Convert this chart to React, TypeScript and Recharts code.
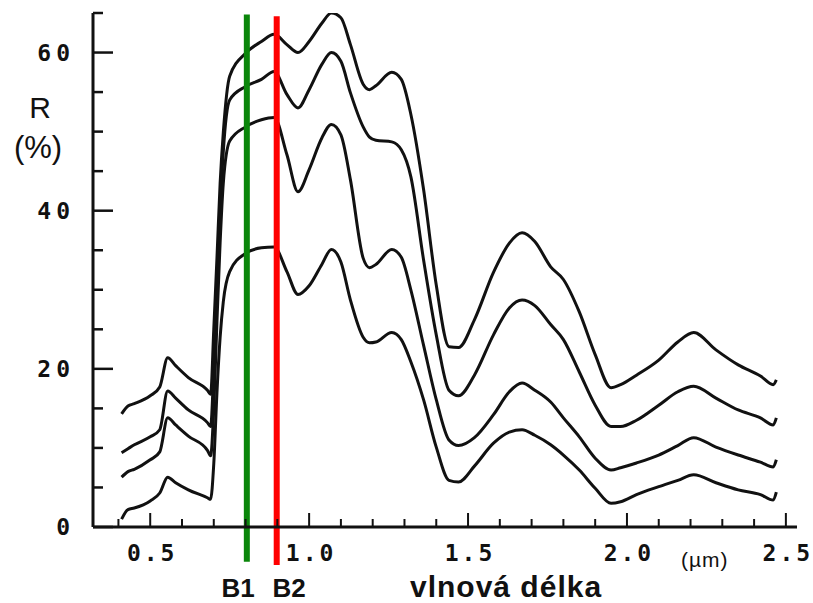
import { Line, LineChart, ReferenceLine, XAxis, YAxis } from "recharts";

// wavelength (µm) sampled along the four reflectance curves
const wavelength = [
  0.41, 0.43, 0.45, 0.5, 0.53, 0.555, 0.58, 0.62, 0.68, 0.69, 0.7, 0.71, 0.72, 0.73, 0.75, 0.8, 0.85,
  0.89, 0.93, 0.965, 1.0, 1.04, 1.07, 1.1, 1.13, 1.17, 1.19, 1.21, 1.26, 1.29, 1.32, 1.36, 1.4, 1.44,
  1.47, 1.52, 1.58, 1.63, 1.67, 1.71, 1.76, 1.8, 1.85, 1.9, 1.95, 1.98, 2.03, 2.1, 2.16, 2.21, 2.28,
  2.35, 2.42, 2.46, 2.47,
];

const curveA = [
  14.3, 15.3, 15.6, 16.6, 17.7, 21.4, 20.4, 18.9, 17.3, 16.8, 25.0, 34.0, 43.5, 49.9, 57.0, 59.9, 61.4,
  62.3, 61.0, 60.0, 61.4, 63.7, 65.0, 64.4, 61.0, 56.0, 55.3, 55.8, 57.5, 56.6, 52.2, 42.7, 30.6, 22.8,
  22.7, 26.2, 32.2, 35.9, 37.2, 36.1, 32.9, 31.3, 27.2, 21.8, 17.6, 18.0, 19.2, 21.1, 23.4, 24.6, 22.4,
  20.5, 19.1, 18.0, 18.6,
];

const curveB = [
  9.4, 9.9, 10.4, 11.4, 12.3, 17.2, 16.3, 14.8, 13.2, 12.7, 20.0, 30.0, 40.0, 47.5, 54.0, 55.7, 56.6,
  57.6, 54.7, 53.0, 55.3, 58.5, 60.0, 58.9, 54.9, 50.6, 49.3, 48.9, 48.7, 47.7, 44.3, 33.8, 24.3, 17.3,
  16.6, 19.2, 24.3, 27.7, 28.7, 28.0, 25.6, 23.7, 19.6, 15.4, 12.7, 12.7, 13.5, 15.4, 17.1, 17.8, 16.3,
  14.8, 13.8, 12.9, 13.8,
];

const curveC = [
  6.3, 7.0, 7.3, 8.5, 9.5, 13.8, 12.9, 11.5, 9.7, 9.0, 15.0, 26.0, 36.0, 43.5, 48.8, 50.6, 51.5,
  51.8, 47.1, 42.4, 45.2, 49.2, 50.9, 49.6, 43.9, 34.0, 32.8, 33.2, 35.1, 34.1, 30.0, 23.0, 16.1, 11.0,
  10.3, 11.3, 14.2, 17.1, 18.2, 17.3, 15.8, 13.8, 11.4, 8.7, 7.2, 7.5, 8.1, 9.1, 10.3, 11.3, 10.1,
  9.1, 8.2, 7.6, 8.5,
];

const curveD = [
  1.0, 2.2, 2.4, 3.3, 4.3, 6.3, 5.6, 4.7, 3.7, 3.5, 8.0, 17.0, 24.0, 28.5, 32.3, 34.6, 35.3,
  35.4, 32.3, 29.4, 30.5, 33.2, 35.1, 33.5, 28.7, 24.0, 23.3, 23.4, 24.6, 23.7, 20.9, 16.1, 10.1, 5.9,
  5.7, 7.7, 10.6, 12.0, 12.3, 11.6, 10.4, 9.1, 7.2, 4.9, 3.0, 3.2, 4.1, 5.1, 5.9, 6.6, 5.6,
  4.7, 4.1, 3.4, 4.4,
];

const xTicks = [
  0.4, 0.5, 0.6, 0.7, 0.8, 0.9, 1.0, 1.1, 1.2, 1.3, 1.4, 1.5, 1.6, 1.7, 1.8, 1.9, 2.0, 2.1, 2.2, 2.3,
  2.4, 2.5,
];
const yTicks = [0, 5, 10, 15, 20, 25, 30, 35, 40, 45, 50, 55, 60, 65];

// band positions B1 and B2
const bandB1 = 0.804;
const bandB2 = 0.898;

const rows = wavelength.map((w, i) => ({
  w,
  a: curveA[i],
  b: curveB[i],
  c: curveC[i],
  d: curveD[i],
}));

const tickFont = "'DejaVu Sans Mono', monospace";
const ink = "#111";

function XTick(props: any) {
  const { x, y, payload } = props;
  const v = payload.value as number;
  const major = Math.abs(v * 2 - Math.round(v * 2)) < 1e-6;
  return (
    <g>
      <line x1={x} x2={x} y1={y} y2={y - (major ? 14 : 8)} stroke={ink} strokeWidth={2} />
      {major && (
        <text
          x={x + 2}
          y={y + 34}
          textAnchor="middle"
          fontFamily={tickFont}
          fontWeight="bold"
          fontSize={23}
          letterSpacing={3}
          fill={ink}
        >
          {v.toFixed(1)}
        </text>
      )}
    </g>
  );
}

function YTick(props: any) {
  const { x, y, payload } = props;
  const v = payload.value as number;
  const major = v % 20 === 0;
  return (
    <g>
      <line x1={x} x2={x + (major ? 20 : 10)} y1={y} y2={y} stroke={ink} strokeWidth={2.5} />
      {major && (
        <text
          x={x - 18}
          y={y + 8}
          textAnchor="end"
          fontFamily={tickFont}
          fontWeight="bold"
          fontSize={23}
          letterSpacing={5}
          fill={ink}
        >
          {v}
        </text>
      )}
    </g>
  );
}

export default function App() {
  const lineProps = {
    type: "monotone" as const,
    stroke: ink,
    strokeWidth: 3,
    dot: false,
    activeDot: false,
    isAnimationActive: false,
  };
  return (
    <div style={{ position: "absolute", left: 0, top: 0, width: 813, height: 603, background: "#fff" }}>
      <LineChart
        width={813}
        height={603}
        data={rows}
        margin={{ top: 13, right: 16, bottom: 0, left: 0 }}
      >
        <XAxis
          dataKey="w"
          type="number"
          domain={[0.32, 2.535]}
          ticks={xTicks}
          height={76}
          tickSize={0}
          tickMargin={0}
          tick={<XTick />}
          axisLine={{ stroke: ink, strokeWidth: 3 }}
          allowDataOverflow
        />
        <YAxis
          type="number"
          domain={[0, 65]}
          ticks={yTicks}
          width={93}
          tickSize={0}
          tickMargin={0}
          tick={<YTick />}
          axisLine={{ stroke: ink, strokeWidth: 3 }}
          allowDataOverflow
        />
        <Line dataKey="a" {...lineProps} />
        <Line dataKey="b" {...lineProps} />
        <Line dataKey="c" {...lineProps} />
        <Line dataKey="d" {...lineProps} />
        <ReferenceLine
          segment={[
            { x: bandB1, y: 64.8 },
            { x: bandB1, y: -4.4 },
          ]}
          stroke="#0a860a"
          strokeWidth={6}
          ifOverflow="visible"
        />
        <ReferenceLine
          segment={[
            { x: bandB2, y: 64.6 },
            { x: bandB2, y: -4.8 },
          ]}
          stroke="#ff0000"
          strokeWidth={6}
          ifOverflow="visible"
        />
      </LineChart>
      <svg
        width={813}
        height={603}
        style={{ position: "absolute", left: 0, top: 0, pointerEvents: "none" }}
      >
        <g fontFamily="'Liberation Sans', Arial, sans-serif" fill={ink}>
          <text x={40} y={118} textAnchor="middle" fontSize={30}>
            R
          </text>
          <text x={38} y={158} textAnchor="middle" fontSize={31}>
            (%)
          </text>
          <text x={238} y={597} textAnchor="middle" fontSize={26} fontWeight="bold">
            B1
          </text>
          <text x={289} y={597} textAnchor="middle" fontSize={26} fontWeight="bold">
            B2
          </text>
          <text x={410} y={597} fontSize={30} fontWeight="bold" letterSpacing={1}>
            vlnová délka
          </text>
          <text x={681} y={567} fontSize={21} letterSpacing={1}>
            (µm)
          </text>
        </g>
      </svg>
    </div>
  );
}
